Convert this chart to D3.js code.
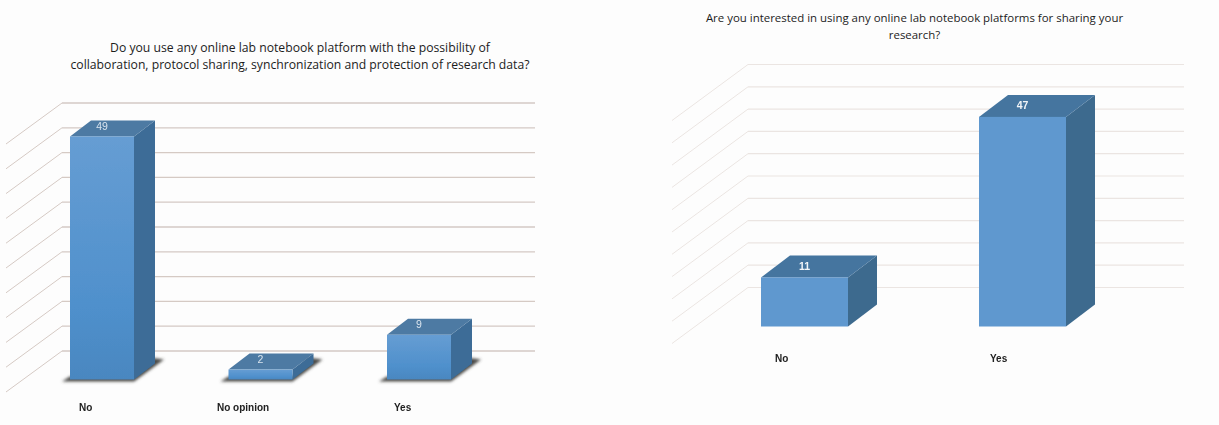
<!DOCTYPE html>
<html><head><meta charset="utf-8">
<script src="https://cdn.jsdelivr.net/npm/d3@7"></script>
<style>html,body{margin:0;padding:0;background:#fdfdfd}svg{display:block}</style></head>
<body><svg id="c" width="1219" height="425"></svg>
<script>
const leftCategories = ["No", "No opinion", "Yes"];
const leftValues = [49, 2, 9];
const rightCategories = ["No", "Yes"];
const rightValues = [11, 47];
const gridTicks = d3.range(0, 55, 5);
const leftTitle = ["Do you use any online lab notebook platform with the possibility of",
  "collaboration, protocol sharing, synchronization and protection of research data?"];
const rightTitle = ["Are you interested in using any online lab notebook platforms for sharing your", "research?"];

const svg = d3.select("#c");
const font = "'Open Sans','Noto Sans',sans-serif";
const labelFont = "'Liberation Sans',sans-serif";
const defs = svg.append("defs");
const g1 = defs.append("linearGradient").attr("id","lf").attr("x1",0).attr("y1",0).attr("x2",0).attr("y2",1);
g1.append("stop").attr("offset","0%").attr("stop-color","#669dd3");
g1.append("stop").attr("offset","70%").attr("stop-color","#4f90cc");
g1.append("stop").attr("offset","100%").attr("stop-color","#4a87c0");
defs.append("filter").attr("id","sh").attr("x","-20%").attr("y","-50%").attr("width","140%").attr("height","200%")
  .append("feGaussianBlur").attr("stdDeviation",1.6);
defs.append("filter").attr("id","soft").append("feGaussianBlur").attr("stdDeviation",0.35);

function chart(o){
  const g = svg.append("g").attr("filter","url(#soft)");
  const y = d3.scaleLinear().domain([0,50]).range([o.gridBottom,o.gridTop]);
  gridTicks.forEach(t=>{
    g.append("line").attr("x1",o.wallX).attr("x2",o.gridRight).attr("y1",y(t)).attr("y2",y(t))
      .attr("stroke",o.gridColor).attr("stroke-width",o.gridW);
    g.append("line").attr("x1",o.wallX).attr("y1",y(t)).attr("x2",o.wallX-o.wallDx).attr("y2",y(t)+o.wallDy)
      .attr("stroke",o.gridColor).attr("stroke-width",o.sideW);
  });
  const x = d3.scalePoint().domain(o.cats).range([o.firstX,o.lastX]);
  o.cats.forEach((c,i)=>{
    const v=o.vals[i], x0=x(c), x1=x0+o.barW, yb=o.frontBottom, yt=yb-(y(0)-y(v));
    const dx=o.dx, dy=o.dy;
    if(o.shadow){
      g.append("path").attr("d",`M${x0-8},${yb+2}L${x1},${yb+2}L${x1+dx+9},${yb-dy-4}L${x1+dx-6},${yb-dy-6}L${x1},${yb-3}L${x0},${yb-3}Z`)
        .attr("fill","#4a4a46").attr("filter","url(#sh)");
    }
    g.append("path").attr("d",`M${x1},${yt}L${x1+dx},${yt-dy}L${x1+dx},${yb-dy}L${x1},${yb}Z`).attr("fill",o.sideFill);
    g.append("path").attr("d",`M${x0},${yt}L${x0+dx},${yt-dy}L${x1+dx},${yt-dy}L${x1},${yt}Z`).attr("fill",o.topFill);
    g.append("rect").attr("x",x0).attr("y",yt).attr("width",o.barW).attr("height",yb-yt).attr("fill",o.frontFill);
    g.append("text").attr("x",x0+o.barW/2+o.labelDx).attr("y",yt-dy/2+o.labelDy).attr("text-anchor","middle")
      .attr("font-family",labelFont).attr("font-size",10.5).attr("font-weight",o.labelW).attr("fill",o.labelFill).text(v);
    g.append("text").attr("x",o.catX[i]).attr("y",o.catY).attr("font-family",labelFont)
      .attr("font-size",10).attr("font-weight",700).attr("fill","#222").text(c);
  });
  o.title.forEach((t,i)=>{
    svg.append("text").attr("x",o.titleX).attr("y",o.titleY+i*o.titleLead).attr("text-anchor","middle")
      .attr("font-family",font).attr("font-size",o.titleSize).attr("fill","#1c1c1c").text(t);
  });
}

chart({cats:leftCategories,vals:leftValues,gridTop:103,gridBottom:351,gridRight:535,wallX:62,wallDx:56,wallDy:41,
  gridColor:"#d5cac4",gridW:1.3,sideW:1,firstX:70,lastX:387,barW:64,frontBottom:379.5,dx:21,dy:16,
  frontFill:"url(#lf)",topFill:"#4d7aa3",sideFill:"#3c6c97",labelDx:0,labelDy:1.5,labelW:400,labelFill:"#d9e4ee",
  shadow:true,catX:[79,217,394],catY:411,title:leftTitle,titleX:300,titleY:52,titleLead:17,titleSize:12.2});

chart({cats:rightCategories,vals:rightValues,gridTop:64.5,gridBottom:287.5,gridRight:1184,wallX:748,wallDx:76,wallDy:56,
  gridColor:"#ebe5e2",gridW:1.2,sideW:1,firstX:761,lastX:979,barW:87,frontBottom:326.5,dx:29,dy:22,
  frontFill:"#5f98cf",topFill:"#44759f",sideFill:"#3e6a8e",labelDx:0,labelDy:3.5,labelW:700,labelFill:"#f2f5f8",
  shadow:false,catX:[775,990],catY:362,title:rightTitle,titleX:914.5,titleY:22,titleLead:17,titleSize:11.45});
</script></body></html>
